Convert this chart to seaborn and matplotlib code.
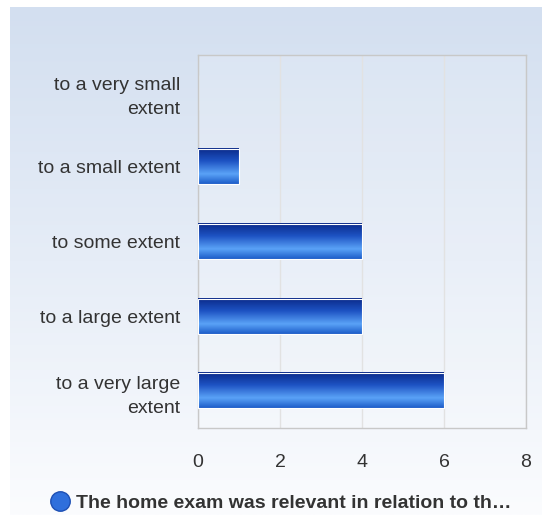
import numpy as np
import pandas as pd
import matplotlib
matplotlib.use("Agg")
import matplotlib.pyplot as plt
import seaborn as sns
from matplotlib.colors import LinearSegmentedColormap
from matplotlib.lines import Line2D

# data
categories = ["to a very small\nextent", "to a small extent", "to some extent",
              "to a large extent", "to a very large\nextent"]
counts = [0, 1, 4, 4, 6]
series_name = "The home exam was relevant in relation to th\u2026"
x_ticks = [0, 2, 4, 6, 8]

df = pd.DataFrame({"category": categories, "count": counts})

sns.set_theme(style="white")
plt.rcParams['font.family'] = ['Liberation Sans', 'DejaVu Sans']

fig = plt.figure(figsize=(5.42, 5.15), dpi=100)

# background panel with a vertical gradient
bg = fig.add_axes([10 / 542, 0, 532 / 542, 508 / 515])
bg_grad = np.linspace(0, 1, 256).reshape(-1, 1)
bg_cmap = LinearSegmentedColormap.from_list("bg", ["#d3dff0", "#e6edf7", "#fbfcfe"])
bg.imshow(bg_grad, aspect="auto", cmap=bg_cmap, extent=[0, 1, 0, 1], origin="upper")
bg.set_axis_off()

# main plot area
ax = fig.add_axes([198 / 542, 1 - 428 / 515, 328 / 542, 373 / 515])
ax.set_facecolor((1, 1, 1, 0.15))
sns.barplot(data=df, x="count", y="category", orient="h", width=0.47,
            color="#2a6ad8", ax=ax, zorder=2)

# overlay gradient fill on each bar
bar_cmap = LinearSegmentedColormap.from_list(
    "bar", [(0.0, "#0a2988"), (0.35, "#1d52c2"), (0.72, "#5aa2f7"), (1.0, "#1c5cc8")])
grad = np.linspace(0, 1, 128).reshape(-1, 1)
for p in ax.patches:
    x0, y0 = p.get_x(), p.get_y()
    w, h = p.get_width(), p.get_height()
    if w <= 0:
        continue
    ax.imshow(grad, aspect="auto", cmap=bar_cmap, zorder=3,
              extent=[x0, x0 + w, y0 + h, y0], origin="upper")
    p.set_edgecolor("white")
    p.set_linewidth(0.8)
    p.set_zorder(4)
    p.set_facecolor("none")

ax.set_xlim(0, 8)
ax.set_ylim(4.5, -0.5)
ax.set_xticks(x_ticks)
ax.xaxis.grid(True, color="#e2e2e2", linewidth=1, zorder=0)
ax.set_axisbelow(True)
for s in ax.spines.values():
    s.set_color("#c8c8c8")
    s.set_linewidth(1)
ax.set_xlabel("")
ax.set_ylabel("")
ax.tick_params(axis="x", labelsize=14, labelcolor="#333333", pad=19, length=0)
ax.tick_params(axis="y", labelsize=14, labelcolor="#333333", pad=13, length=0)
for lbl in ax.get_yticklabels():
    lbl.set_horizontalalignment("right")
    lbl.set_multialignment("right")
    lbl.set_linespacing(1.55)

# legend at the bottom
handle = Line2D([], [], marker="o", linestyle="none", markersize=14,
                markerfacecolor="#2f6fdc", markeredgecolor="#1d4fb4")
fig.legend([handle], [series_name], loc="center", bbox_to_anchor=(279 / 542, 1 - 503 / 515),
           frameon=False, handletextpad=0.15, handlelength=1.4,
           prop={"weight": "bold", "size": 14}, labelcolor="#333333")

fig.savefig("out.png", dpi=100)
